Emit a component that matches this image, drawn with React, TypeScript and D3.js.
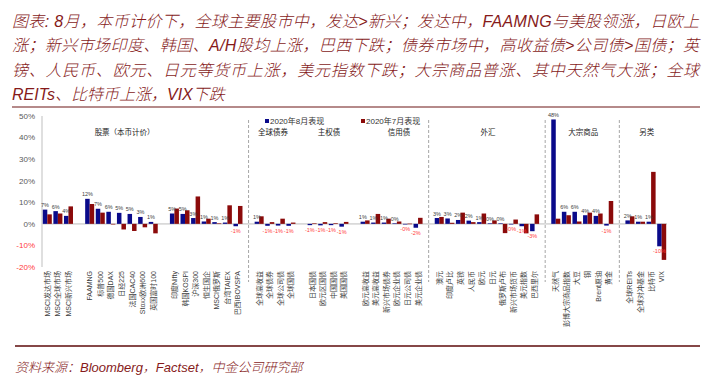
import * as d3 from "d3";

// "" = blank gap slot, "|" = gap slot with dashed divider
const categories = [
  "MSCI发达市场", "MSCI全球市场", "MSCI新兴市场", "",
  "FAAMNG", "标普500", "德国DAX", "日经225", "法国CAC40", "Stoxx欧洲600", "英国富时100", "",
  "印度Nifty", "韩国KOSPI", "沪深300", "恒生国企", "MSCI俄罗斯", "台湾TAIEX", "巴西IBOVSPA", "|",
  "全球高收益", "全球债券", "全球公司债", "全球国债", "",
  "日本国债", "欧元区国债", "中国国债", "美国国债", "",
  "欧元高收益", "美元高收益", "新兴市场债券", "欧元企业债", "日元公司债", "美元企业债", "|",
  "澳元", "印度卢比", "英镑", "人民币", "欧元", "日元", "俄罗斯卢布", "新兴市场货币", "美元指数", "巴西里尔", "|",
  "天然气", "彭博大宗商品指数", "大豆", "铜", "Brent原油", "黄金", "|",
  "全球REITs", "全球对冲基金", "比特币", "VIX",
];

const aug2020 = [
  6.6, 5.9, 3.7, null,
  11.6, 7.0, 5.6, 5.1, 4.6, 3.2, 0.9, null,
  4.8, 4.6, 2.7, 1.1, 0.8, 0.6, -1.1, null,
  1.0, -0.9, -0.8, -0.9, null,
  -0.6, -0.7, -0.6, -1.3, null,
  1.0, 0.6, 0.6, 0.2, -0.2, -1.8, null,
  2.7, 2.5, 1.8, 1.5, 0.8, 0.2, 0.2, -0.2, -1.1, -3.4, null,
  48.4, 5.6, 5.6, 4.0, 3.7, -0.8, null,
  1.6, 1.0, 1.0, -10.4,
];

const jul2020 = [
  4.4, 4.8, 8.1, null,
  9.2, 5.2, 0.0, -2.6, -3.3, -1.6, -4.4, null,
  7.1, 6.3, 12.7, 2.4, 0.2, 8.6, 8.3, null,
  3.5, 0.8, 2.4, 0.6, null,
  0.2, 0.8, 0.3, 0.9, null,
  1.6, 4.6, 2.4, 1.1, 0.1, 2.8, null,
  3.2, 0.5, 5.2, 0.8, 4.8, 1.6, -4.3, 2.0, -4.4, 4.4, null,
  2.4, 4.0, 1.1, 5.2, 4.8, 10.6, null,
  3.5, 1.0, 24.1, -16.7,
];

const yTicks = [-20, -10, 0, 10, 20, 30, 40, 50];
const seriesNames = ["2020年8月表现", "2020年7月表现"];

// section titles and the (fractional) slot they sit over
const sectionTitles = ["股票（本币计价）", "全球债券", "主权债", "信用债", "外汇", "大宗商品", "另类"];
const sectionSlots = [7.3, 21.3, 26.6, 33.2, 41.6, 50.6, 56.6];

const titleLines = [
  "图表: 8月，本币计价下，全球主要股市中，发达>新兴；发达中，FAAMNG与美股领涨，日欧上",
  "涨；新兴市场印度、韩国、A/H股均上涨，巴西下跌；债券市场中，高收益债>公司债>国债；英",
  "镑、人民币、欧元、日元等货币上涨，美元指数下跌；大宗商品普涨、其中天然气大涨；全球",
  "REITs、比特币上涨，VIX下跌",
];
const sourceText = "资料来源：Bloomberg，Factset，中金公司研究部";

const W = 709;
const H = 391;
const BLUE = "#0a0a8a";
const RED = "#8b0a0a";
const NEG = "#ff3b3b";
const FONT = "'Liberation Sans', Arial, 'Noto Sans CJK SC', sans-serif";

const fmt = (v: number) => (v < 0 ? "-" : "") + Math.abs(Math.round(v)) + "%";

export default function App() {
  const left = 42;
  const right = 667;
  const top = 116;
  const bottom = 267;

  const x = d3
    .scaleBand<number>()
    .domain(d3.range(categories.length))
    .range([left, right])
    .paddingInner(0.15)
    .paddingOuter(0.075);

  const xs = d3
    .scaleBand<string>()
    .domain(["aug", "jul"])
    .range([0, x.bandwidth()]);

  const y = d3.scaleLinear().domain([-20, 50]).range([bottom, top]);

  const slotX = (s: number) => left + x.step() * (s + 0.5);

  const bar = (v: number | null, i: number, key: string, color: string) => {
    if (v == null) return null;
    const y0 = y(0);
    const y1 = y(v);
    return (
      <rect
        key={key + i}
        x={(x(i) as number) + (xs(key) as number)}
        y={Math.min(y0, y1)}
        width={xs.bandwidth()}
        height={Math.max(0.6, Math.abs(y1 - y0))}
        fill={color}
      />
    );
  };

  return (
    <svg
      width={W}
      height={H}
      style={{ position: "absolute", left: 0, top: 0, background: "#fff" }}
      fontFamily={FONT}
    >
      {/* header */}
      {titleLines.map((t, i) => (
        <text
          key={i}
          x={12}
          y={27 + i * 24.3}
          fontSize={16}
          fontStyle="italic"
          fontWeight={300}
          fill="#861a1a"
          fontFamily="'Liberation Sans', 'Noto Sans CJK SC', sans-serif"
          textLength={i < 3 ? 687 : undefined}
          lengthAdjust="spacing"
        >
          {t}
        </text>
      ))}
      <line x1={12} x2={700} y1={107} y2={107} stroke="#b58a8a" strokeWidth={2} />

      {/* y axis */}
      <line x1={left} x2={left} y1={top} y2={bottom} stroke="#bfbfbf" />
      {yTicks.map((t) => (
        <text
          key={t}
          x={35}
          y={y(t)}
          dy="0.35em"
          textAnchor="end"
          fontSize={8}
          fill={t < 0 ? NEG : "#595959"}
        >
          {t + "%"}
        </text>
      ))}

      {/* zero line */}
      <line x1={left} x2={right} y1={y(0)} y2={y(0)} stroke="#d9d9d9" strokeWidth={1.6} />

      {/* dividers */}
      {categories.map((c, i) =>
        c === "|" ? (
          <line
            key={"d" + i}
            x1={(x(i) as number) + x.bandwidth() / 2}
            x2={(x(i) as number) + x.bandwidth() / 2}
            y1={120}
            y2={282}
            stroke="#a6a6a6"
            strokeDasharray="3,2"
          />
        ) : null
      )}

      {/* section titles */}
      {sectionTitles.map((t, i) => (
        <text
          key={t}
          x={slotX(sectionSlots[i])}
          y={135}
          textAnchor="middle"
          fontSize={7.5}
          fill="#222"
          fontFamily="'Noto Sans CJK SC', sans-serif"
        >
          {t}
        </text>
      ))}

      {/* legend */}
      <rect x={265} y={119} width={4} height={4} fill={BLUE} />
      <text x={270} y={124} fontSize={8} fill="#333">{seriesNames[0]}</text>
      <rect x={361} y={119} width={4} height={4} fill={RED} />
      <text x={366} y={124} fontSize={8} fill="#333">{seriesNames[1]}</text>

      {/* bars */}
      {aug2020.map((v, i) => bar(v, i, "aug", BLUE))}
      {jul2020.map((v, i) => bar(v, i, "jul", RED))}

      {/* data labels for August */}
      {aug2020.map((v, i) =>
        v == null ? null : (
          <text
            key={"l" + i}
            x={(x(i) as number) + (xs("aug") as number) + xs.bandwidth() / 2}
            y={v >= 0 ? y(v) - 2.5 : y(v) + 7}
            textAnchor="middle"
            fontSize={5.5}
            fill={v < 0 ? NEG : "#404040"}
          >
            {fmt(v)}
          </text>
        )
      )}

      {/* category labels */}
      {categories.map((c, i) =>
        c === "" || c === "|" ? null : (
          <text
            key={"c" + i}
            transform={`translate(${(x(i) as number) + x.bandwidth() / 2},271) rotate(-90)`}
            textAnchor="end"
            dominantBaseline="central"
            fontSize={7}
            fill="#404040"
          >
            {c}
          </text>
        )
      )}

      {/* footer */}
      <line x1={15} x2={700} y1={346} y2={346} stroke="#5c0a0a" strokeWidth={1.5} />
      <text
        x={15}
        y={372}
        fontSize={13}
        fontStyle="italic"
        fontWeight={300}
        fill="#861a1a"
        fontFamily="'Liberation Sans', 'Noto Sans CJK SC', sans-serif"
      >
        {sourceText}
      </text>
    </svg>
  );
}
